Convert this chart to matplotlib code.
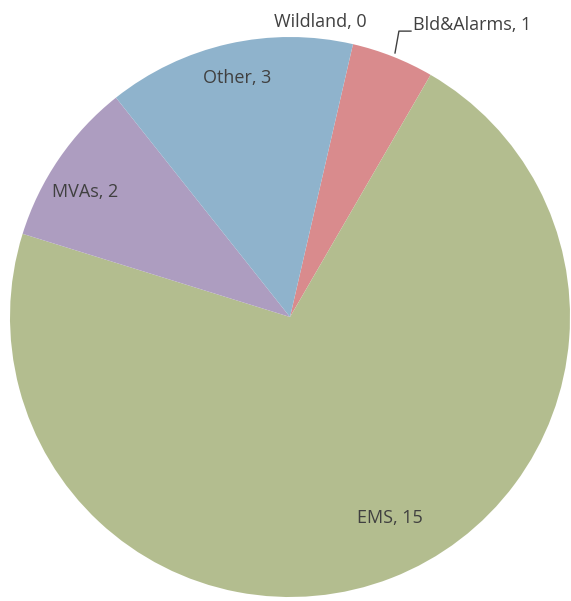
import matplotlib.pyplot as plt

categories = ['Wildland', 'Bld&Alarms', 'EMS', 'MVAs', 'Other']
counts = [0, 1, 15, 2, 3]
colors = ['#8fb3cc', '#d98b8d', '#b3bd8f', '#ad9dc0', '#8fb3cc']

# label spots (data coords, pie radius = 1)
label_xy = [(0.107, 1.054), (0.44, 1.043), (0.357, -0.718), (-0.732, 0.446), (-0.19, 0.854)]
label_ha = ['center', 'left', 'center', 'center', 'center']

plt.rcParams['font.family'] = ['Open Sans', 'DejaVu Sans']

fig = plt.figure(figsize=(5.71, 6.01), dpi=100)
ax = fig.add_axes([10 / 571, 4 / 601, 560 / 571, 560 / 601])
ax.pie(counts, colors=colors, startangle=77, counterclock=False,
       wedgeprops=dict(linewidth=0))
ax.set_xlim(-1, 1)
ax.set_ylim(-1, 1)
ax.set_aspect('equal')
ax.axis('off')

for name, val, (x, y), ha in zip(categories, counts, label_xy, label_ha):
    ax.text(x, y, f'{name}, {val}', ha=ha, va='center', fontsize=13,
            color='#404040', clip_on=False)

# leader line for the small slice
ax.plot([0.375, 0.389, 0.432], [0.943, 1.021, 1.021], color='#404040',
        linewidth=1, clip_on=False)

fig.savefig('out.png', dpi=100)
